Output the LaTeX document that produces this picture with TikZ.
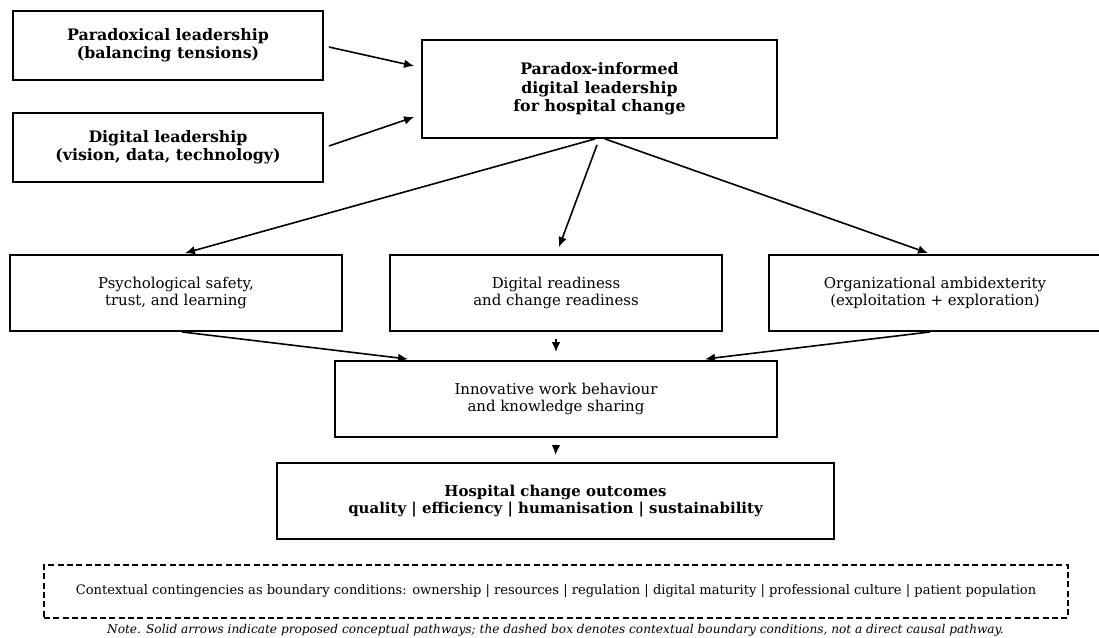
\documentclass[tikz,border=0pt]{standalone}
\usepackage{fontspec}
\setmainfont{DejaVu Serif}
\usetikzlibrary{arrows.meta,calc}
\begin{document}
\begin{tikzpicture}[x=0.75pt,y=-0.75pt,
 box/.style={draw, line width=1.4pt, inner sep=0pt, align=center},
 bold/.style={font=\fontsize{11.85}{13.8}\selectfont\bfseries},
 boldo/.style={font=\fontsize{11.2}{12.8}\selectfont\bfseries},
 reg/.style={font=\fontsize{11.2}{13.1}\selectfont},
 arr/.style={-{Latex[length=7.5pt,width=6.5pt]}, line width=1.2pt},
]
\useasboundingbox (0,0) rectangle (1099,638);
\node[box,bold,minimum width={310*0.75pt},minimum height={69*0.75pt}] (p1) at (168,45.5) {Paradoxical leadership\\(balancing tensions)};
\node[box,bold,minimum width={310*0.75pt},minimum height={69*0.75pt}] (p2) at (168,147.5) {Digital leadership\\(vision, data, technology)};
\node[box,bold,minimum width={355*0.75pt},minimum height={98*0.75pt}] (c) at (599.5,89) {Paradox-informed\\digital leadership\\for hospital change};
\node[box,reg,minimum width={332*0.75pt},minimum height={76*0.75pt}] (m1) at (176,293) {Psychological safety,\\trust, and learning};
\node[box,reg,minimum width={332*0.75pt},minimum height={76*0.75pt}] (m2) at (556,293) {Digital readiness\\and change readiness};
\node[box,reg,minimum width={332*0.75pt},minimum height={76*0.75pt}] (m3) at (935,293) {Organizational ambidexterity\\(exploitation + exploration)};
\node[box,reg,minimum width={442*0.75pt},minimum height={76*0.75pt}] (i) at (556,399) {Innovative work behaviour\\and knowledge sharing};
\node[box,boldo,minimum width={557*0.75pt},minimum height={76*0.75pt}] (o) at (555.5,501) {Hospital change outcomes\\quality | efficiency | humanisation | sustainability};
\node[box,line width=1.1pt,dash pattern=on 4.6pt off 2.4pt,minimum width={1024*0.75pt},minimum height={53*0.75pt},font=\fontsize{9.8}{11}\selectfont] (ctx) at (556,591.5) {Contextual contingencies as boundary conditions: ownership | resources | regulation | digital maturity | professional culture | patient population};
\node[inner sep=0pt,font=\fontsize{9.1}{10}\selectfont\itshape] (note) at (555.5,630.5) {Note. Solid arrows indicate proposed conceptual pathways; the dashed box denotes contextual boundary conditions, not a direct causal pathway.};

\draw[arr] ($(p1.east)+(5,1.5)$) -- ($(c.west)+(-7,-23)$);
\draw[arr] ($(p2.east)+(5,-1.5)$) -- ($(c.west)+(-7,28)$);
\draw[arr] ($(c.south)+(-4.5,0)$) -- ($(m1.north)+(9,-1)$);
\draw[arr] ($(c.south)+(-2.5,6)$) -- ($(m2.north)+(3,-7)$);
\draw[arr] ($(c.south)+(5.5,0)$) -- ($(m3.north)+(-7,-1)$);
\draw[arr] ($(m1.south)+(6,0)$) -- ($(i.north)+(-148,-1)$);
\draw[arr] ($(m2.south)+(0,7)$) -- ($(i.north)+(0,-8)$);
\draw[arr] ($(m3.south)+(-5,0)$) -- ($(i.north)+(149,-1)$);
\draw[arr] ($(i.south)+(0,7)$) -- ($(o.north)+(0,-7)$);
\end{tikzpicture}
\end{document}
